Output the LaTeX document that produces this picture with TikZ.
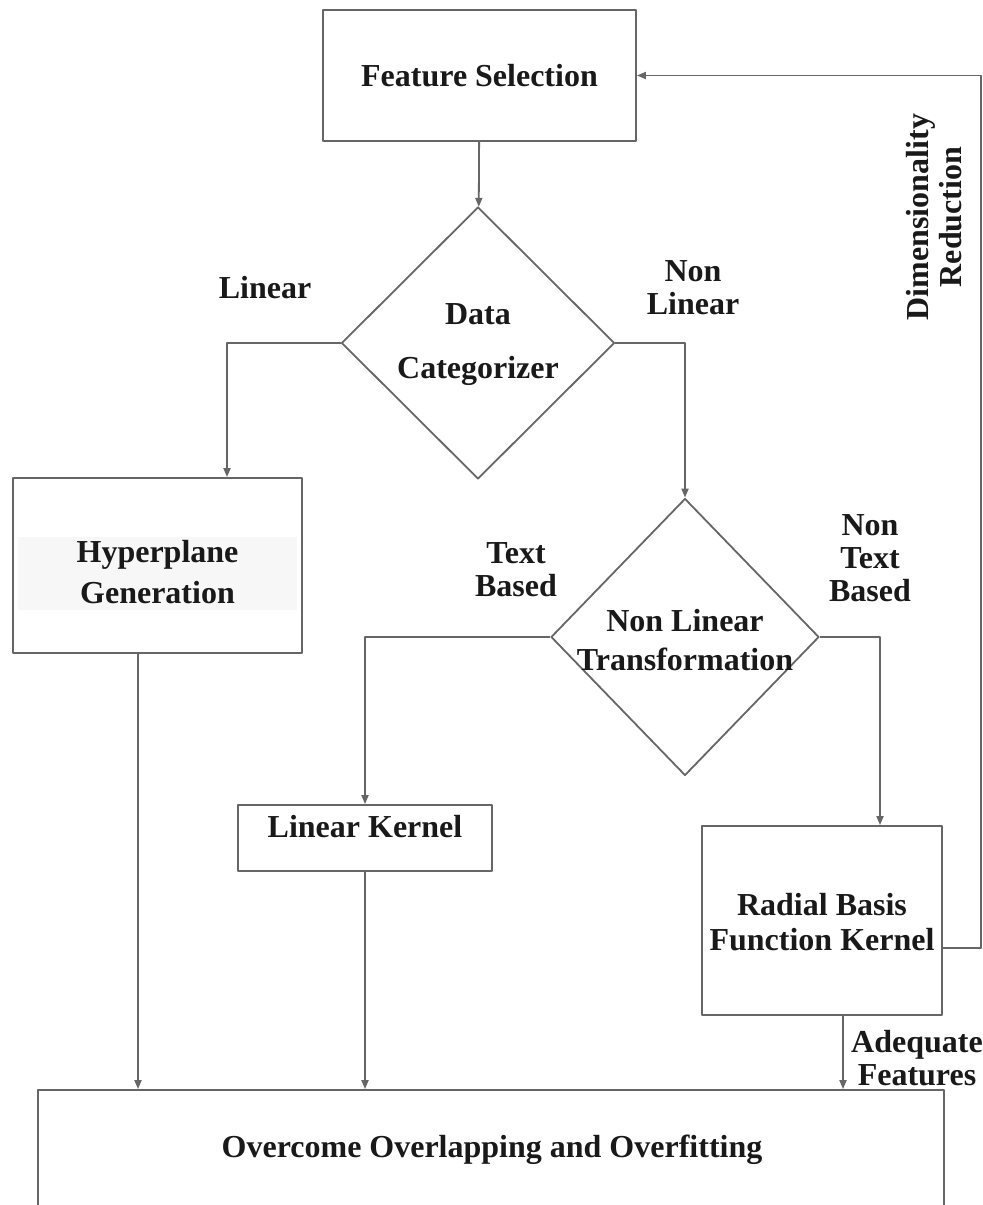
\documentclass[tikz,border=0pt]{standalone}
\usepackage{fontspec}
\setmainfont{Liberation Serif}
\usetikzlibrary{shapes.geometric,arrows.meta}
\begin{document}
\begin{tikzpicture}[x=0.5pt,y=-0.5pt,>={Triangle[length=4.5pt,width=3.5pt]}, font=\fontsize{16}{16.5}\selectfont\bfseries, line join=round,
  line/.style={draw=black!60,line width=0.9pt},
  flow/.style={line,->},
  block/.style={rectangle,line,inner sep=0pt},
  decision/.style={diamond,line,inner sep=0pt,aspect=1},
  lbl/.style={align=center,text=black!90}]
\useasboundingbox (0,0) rectangle (982,1205);
% boxes and decisions
\node[block,minimum width=156.5pt,minimum height=65.5pt,text=black!90] (fs) at (479.5,75.5) {Feature Selection};
\node[decision,minimum width=136.5pt,minimum height=136pt] (dc) at (478,343) {};
\node[lbl] (dctxt) at (478,345) {Data\\[10.5pt]Categorizer};
\fill[black!3] (18,537) rectangle (297,610);
\node[block,minimum width=144.5pt,minimum height=87.5pt] (hg) at (157.5,565.5) {};
\node[lbl] (hgtxt) at (157.5,572) {Hyperplane\\[4pt]Generation};
\node[decision,minimum width=134pt,minimum height=138.5pt] (nlt) at (685,637) {};
\node[lbl] (nlttxt) at (685,640) {Non Linear\\[3pt]Transformation};
\node[block,minimum width=127pt,minimum height=33pt] (lk) at (365,838) {};
\node[lbl] (lktxt) at (365,827) {Linear Kernel};
\node[block,minimum width=120pt,minimum height=94.5pt] (rbf) at (822,920.5) {};
\node[lbl] (rbftxt) at (822,922) {Radial Basis\\[1pt]Function Kernel};
\node[block,minimum width=453pt,minimum height=80pt] (oo) at (491,1170) {};
\node[lbl] (ootxt) at (492,1150) {Overcome Overlapping and Overfitting};
% edge labels
\node[lbl] (lin) at (265,288) {Linear};
\node[lbl] (nonlin) at (693,288) {Non\\Linear};
\node[lbl] (txt) at (516,570) {Text\\Based};
\node[lbl] (nontxt) at (870,558) {Non\\Text\\Based};
\node[lbl] (adq) at (917,1058) {Adequate\\Features};
\node[lbl,rotate=90] (dim) at (934,217) {Dimensionality\\Reduction};
% connectors
\draw[flow] (fs) -- (dc);
\draw[flow] (dc.west) -| ([xshift=34.75pt]hg.north);
\draw[flow] (dc.east) -| (nlt.north);
\draw[flow] (nlt.west) -| (lk.north);
\draw[flow] (nlt.east) -| ([xshift=29pt]rbf.north);
\draw[flow] ([yshift=-13.75pt]rbf.east) -- ++(38,0) |- (fs.east);
\draw[flow] ([xshift=-9.75pt]hg.south) -- ([xshift=-9.75pt]hg.south |- oo.north);
\draw[flow] (lk.south) -- (lk.south |- oo.north);
\draw[flow] ([xshift=10.5pt]rbf.south) -- ([xshift=10.5pt]rbf.south |- oo.north);
\end{tikzpicture}
\end{document}
